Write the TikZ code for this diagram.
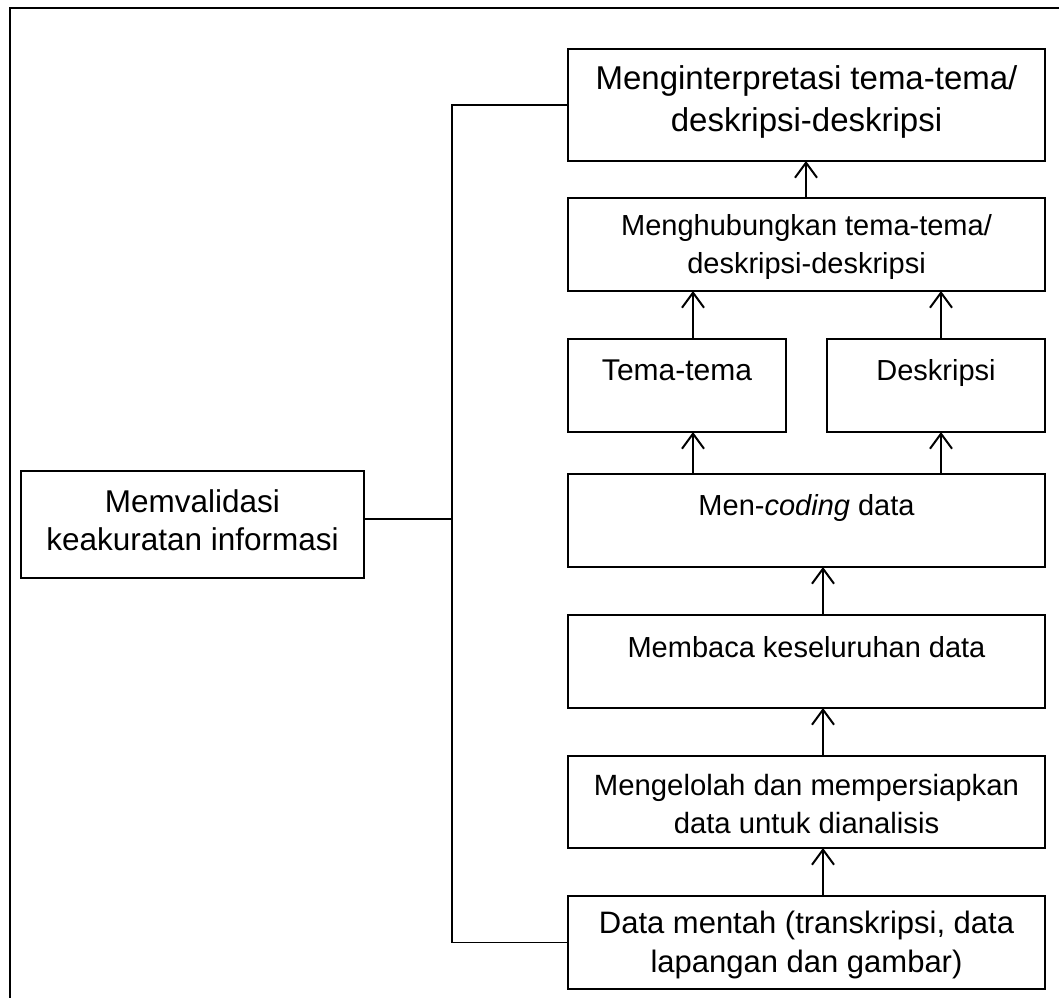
\documentclass[tikz,border=0pt]{standalone}
\usepackage{fontspec}
\setmainfont{Liberation Sans}
\usetikzlibrary{arrows.meta}
\begin{document}
\begin{tikzpicture}[x=1pt,y=-1pt,
  box/.style={draw, line width=1.6pt, inner sep=0pt, outer sep=0pt, anchor=north west},
  lbl/.style={anchor=north, inner sep=0pt, outer sep=0pt, align=center, font=\fontsize{29}{38}\selectfont},
  arr/.style={line width=2pt, -{Straight Barb[length=15pt,width=22pt]}},
  conn/.style={line width=1.6pt}]
\useasboundingbox (0,0) rectangle (1059,997);
\begin{scope}
  \clip (0,0) rectangle (1059,997);
  \draw[conn] (10,1100) -- (10,8) -- (1100,8);
\end{scope}
% boxes
\node[box, minimum width=477pt, minimum height=112pt] (interp) at (568,49) {};
\node[box, minimum width=477pt, minimum height=93pt] (hub) at (568,198) {};
\node[box, minimum width=218pt, minimum height=93pt] (tema) at (568,339) {};
\node[box, minimum width=218pt, minimum height=93pt] (desk) at (827,339) {};
\node[box, minimum width=477pt, minimum height=93pt] (coding) at (568,474) {};
\node[box, minimum width=477pt, minimum height=93pt] (membaca) at (568,615) {};
\node[box, minimum width=477pt, minimum height=92pt] (kelola) at (568,756) {};
\node[box, minimum width=477pt, minimum height=93pt] (mentah) at (568,896) {};
\node[box, minimum width=343pt, minimum height=107pt] (valid) at (21,471) {};
% labels
\node[lbl, font=\fontsize{33}{42}\selectfont] (tinterp) at ([yshift=-10.6pt]interp.north) {\strut Menginterpretasi tema-tema/\\\strut deskripsi-deskripsi};
\node[lbl] (thub) at ([yshift=-10.4pt]hub.north) {\strut Menghubungkan tema-tema/\\\strut deskripsi-deskripsi};
\node[lbl, font=\fontsize{30}{38}\selectfont] (ttema) at ([yshift=-14.4pt]tema.north) {\strut Tema-tema};
\node[lbl] (tdesk) at ([yshift=-14.4pt]desk.north) {\strut Deskripsi};
\node[lbl] (tcoding) at ([yshift=-14.4pt]coding.north) {\strut Men-\textit{coding} data};
\node[lbl] (tmembaca) at ([yshift=-15.4pt]membaca.north) {\strut Membaca keseluruhan data};
\node[lbl, font=\fontsize{29.3}{38}\selectfont] (tkelola) at ([yshift=-12.4pt]kelola.north) {\strut Mengelolah dan mempersiapkan\\\strut data untuk dianalisis};
\node[lbl, font=\fontsize{31}{39}\selectfont] (tmentah) at ([yshift=-9.7pt]mentah.north) {\strut Data mentah (transkripsi, data\\\strut lapangan dan gambar)};
\node[lbl, font=\fontsize{31.5}{38}\selectfont] (tvalid) at ([yshift=-14.4pt]valid.north) {\strut Memvalidasi\\\strut keakuratan informasi};
% arrow positions
\coordinate (xc) at (806,0);
\coordinate (xa) at (693,0);
\coordinate (xb) at (941,0);
\coordinate (xm) at (823,0);
\coordinate (cy) at (0,519);
\draw[arr] (hub.north -| xc) -- (interp.south -| xc);
\draw[arr] (tema.north -| xa) -- (hub.south -| xa);
\draw[arr] (desk.north -| xb) -- (hub.south -| xb);
\draw[arr] (coding.north -| xa) -- (tema.south -| xa);
\draw[arr] (coding.north -| xb) -- (desk.south -| xb);
\draw[arr] (membaca.north -| xm) -- (coding.south -| xm);
\draw[arr] (kelola.north -| xm) -- (membaca.south -| xm);
\draw[arr] (mentah.north -| xm) -- (kelola.south -| xm);
% connectors
\coordinate (vx) at (452,942);
\draw[conn] (interp.west) -| (vx) |- (mentah.west);
\draw[conn] (valid.east |- cy) -- (vx |- cy);
\end{tikzpicture}
\end{document}
